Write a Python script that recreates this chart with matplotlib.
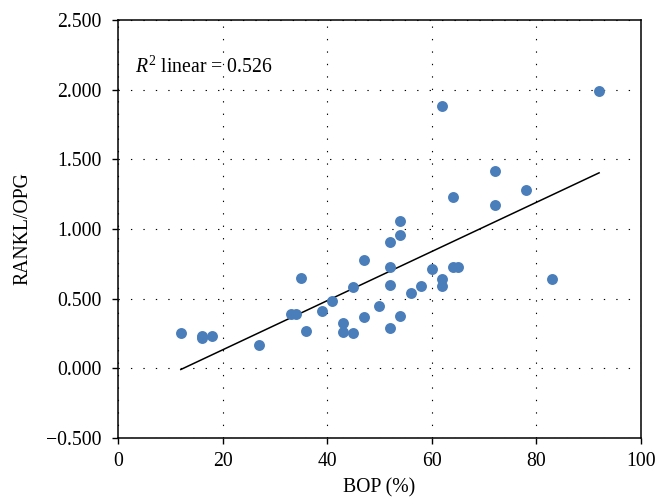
import matplotlib
matplotlib.use("Agg")
import matplotlib.pyplot as plt
import numpy as np
from matplotlib.ticker import FuncFormatter

# BOP (%) vs RANKL/OPG
bop = [12, 16, 16, 18, 27, 33, 34, 35, 36, 39, 41, 43, 43, 45, 45, 47, 47, 50,
       52, 52, 52, 52, 54, 54, 54, 56, 58, 60, 62, 62, 62, 64, 64, 65, 72, 72,
       78, 83, 92]
ratio = [0.25, 0.22, 0.235, 0.234, 0.17, 0.39, 0.39, 0.65, 0.27, 0.41, 0.48, 0.325,
         0.26, 0.25, 0.58, 0.775, 0.365, 0.446, 0.909, 0.73, 0.60, 0.286, 1.057,
         0.959, 0.372, 0.542, 0.592, 0.711, 1.883, 0.642, 0.592, 1.231, 0.73,
         0.725, 1.418, 1.172, 1.279, 0.64, 1.988]
r2_text = "0.526"
xticks = [0, 20, 40, 60, 80, 100]
yticks = [-0.5, 0.0, 0.5, 1.0, 1.5, 2.0, 2.5]

plt.rcParams['font.family'] = ['Liberation Serif', 'DejaVu Serif']
plt.rcParams['mathtext.fontset'] = 'custom'
plt.rcParams['mathtext.rm'] = 'Liberation Serif'
plt.rcParams['mathtext.it'] = 'Liberation Serif:italic'

fs = 14.2

fig = plt.figure(figsize=(6.56, 4.98), dpi=100)
ax = fig.add_axes([0.180, 0.1205, 0.797, 0.8395])

x = np.array(bop, dtype=float)
y = np.array(ratio)
ax.scatter(x, y, s=62, color='#4a7ebb', zorder=3, linewidths=0)

# linear fit
m, b = np.polyfit(x, y, 1)
xs = np.array([x.min(), x.max()])
ax.plot(xs, m * xs + b, color='black', lw=1.1, zorder=2)

ax.set_xlim(0, 100)
ax.set_ylim(-0.5, 2.5)
ax.set_xticks(xticks)
ax.set_yticks(yticks)
ax.yaxis.set_major_formatter(FuncFormatter(lambda v, p: "{:.3f}".format(v).replace("-", "\u2212")))
ax.tick_params(direction='out', length=4, width=1, labelsize=fs, color='black')
ax.tick_params(axis='x', pad=6)
ax.tick_params(axis='y', pad=8)
ax.grid(True, color='black', lw=0.8, linestyle=(0, (1.2, 10)))
ax.set_axisbelow(True)
for sp in ax.spines.values():
    sp.set_linewidth(1.1)

ax.set_xlabel("BOP (%)", fontsize=fs, labelpad=5)
ax.set_ylabel("RANKL/OPG", fontsize=fs, labelpad=10)
ax.text(3.3, 2.16, r"$R^2$ linear = " + r2_text, fontsize=fs, va='center')

fig.savefig("out.png", dpi=100)
